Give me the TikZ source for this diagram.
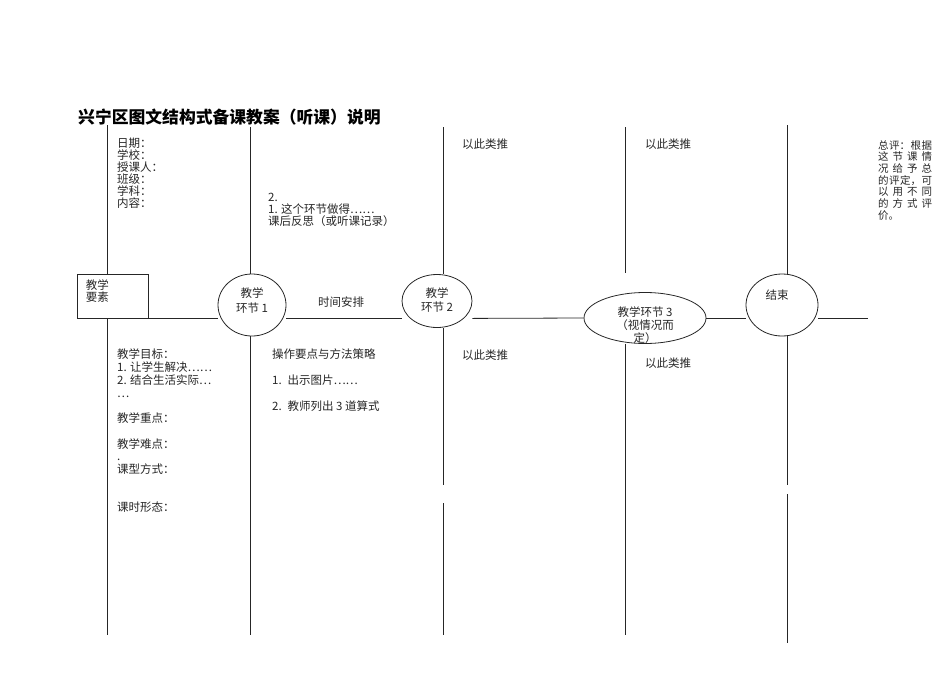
\documentclass[tikz,border=0pt]{standalone}
\usepackage{fontspec}
\setmainfont{Noto Sans CJK SC}
\usetikzlibrary{shapes.geometric}

\newcommand{\fillrow}[1]{\makebox[54pt][s]{#1}}

\begin{document}
\begin{tikzpicture}[
    x=1pt, y=-1pt,
    rule/.style={
        line width=0.8pt,
        draw=black!85
    },
    stage/.style={
        ellipse,
        draw=black!85,
        line width=0.8pt,
        inner sep=0pt
    },
    elembox/.style={
        rectangle,
        draw=black!85,
        line width=0.8pt,
        minimum width=71pt,
        minimum height=44pt,
        inner sep=0pt
    },
    txt/.style={
        inner sep=0pt,
        align=left,
        text=black!85,
        font=\fontsize{11.5}{12}\selectfont
    },
    stagetext/.style={
        inner sep=0pt,
        align=center,
        text=black!85,
        font=\fontsize{11.5}{14.5}\selectfont
    }
]
\useasboundingbox (0,0) rectangle (950,672);

\node[anchor=west, inner sep=0pt, font=\fontsize{16.8}{18}\bfseries\selectfont] (title) at (78,117)
{兴宁区图文结构式备课教案（听课）说明};

% main row
\node[elembox, label={[txt, anchor=north west, xshift=9pt, yshift=-6pt]north west:教学\\要素}] (elem) at (112.5,296) {};

\node[stage, minimum width=68pt, minimum height=62pt,
      label={[stagetext, yshift=4.5pt]center:教学\\环节 1}] (step1) at (252,305) {};

\node[stage, minimum width=70pt, minimum height=53pt,
      label={[stagetext, yshift=1pt]center:教学\\环节 2}] (step2) at (437,301) {};

\node[stage, minimum width=122pt, minimum height=51pt,
      label={[stagetext, font=\fontsize{11.5}{13}\selectfont, yshift=-7pt]center:教学环节 3\\（视情况而\\定）}] (step3) at (645,318) {};

\node[stage, minimum width=72pt, minimum height=62pt,
      label={[stagetext, xshift=-5pt, yshift=10pt]center:结束}] (finish) at (782,305) {};

\coordinate (tail) at (868,318);

\draw[rule] (elem.south east) -- (elem.south east -| step1.west);
\draw[rule] (step1.east |- elem.south) -- (step2.west |- elem.south);
\draw[rule] (step2.east |- elem.south) -- (step3.west);
\draw[rule] (step3.east) -- (finish.west |- step3.east);
\draw[rule] (finish.east |- tail) -- (tail);

\node[txt, anchor=west] (timing) at (318,302) {时间安排};

% vertical rules
\coordinate (top1) at (107,125);
\coordinate (bot1) at (107,635);
\coordinate (top2) at (250,127);
\coordinate (bot2) at (250,635);
\coordinate (top3) at (443,127);
\coordinate (gap3a) at (443,485);
\coordinate (gap3b) at (443,503);
\coordinate (bot3) at (443,635);
\coordinate (top4) at (625,127);
\coordinate (end4) at (625,273);
\coordinate (bot4) at (625,635);
\coordinate (top5) at (787,125);
\coordinate (gap5a) at (787,485);
\coordinate (gap5b) at (787,494);
\coordinate (bot5) at (787,643);

\draw[rule] (top1) -- (top1 |- elem.north);
\draw[rule] (top1 |- elem.south) -- (bot1);
\draw[rule] (top2) -- (top2 |- step1.north);
\draw[rule] (top2 |- step1.south) -- (bot2);
\draw[rule] (top3) -- (top3 |- step2.north);
\draw[rule] (top3 |- step2.south) -- (gap3a);
\draw[rule] (gap3b) -- (bot3);
\draw[rule] (top4) -- (end4);
\draw[rule] (top4 |- step3.south) -- (bot4);
\draw[rule] (top5) -- (top5 |- finish.north);
\draw[rule] (top5 |- finish.south) -- (gap5a);
\draw[rule] (gap5b) -- (bot5);

% upper texts
\node[txt, anchor=north west] (info) at (117,138)
{日期：\\学校：\\授课人：\\班级：\\学科：\\内容：};

\node[txt, anchor=north west] (reflect) at (268,193)
{2.\\1. 这个环节做得……\\课后反思（或听课记录）};

\node[txt, anchor=west] (etc1) at (462,144) {以此类推};
\node[txt, anchor=west] (etc2) at (645,144) {以此类推};

\node[txt, anchor=north west, font=\fontsize{10.5}{11.7}\selectfont] (review) at (878,140)
{\fillrow{总\hfil 评：\hfil 根\hfil 据}\\
 \fillrow{这\hfil 节\hfil 课\hfil 情}\\
 \fillrow{况\hfil 给\hfil 予\hfil 总}\\
 \fillrow{的\hfil 评\hfil 定，\hfil 可}\\
 \fillrow{以\hfil 用\hfil 不\hfil 同}\\
 \fillrow{的\hfil 方\hfil 式\hfil 评}\\
 价。};

% lower texts
\node[txt, anchor=north west, font=\fontsize{11.5}{12.75}\selectfont] (goals) at (117,349)
{教学目标：\\1. 让学生解决……\\2. 结合生活实际…\\…\\\mbox{}\\教学重点：\\\mbox{}\\教学难点：\\.\\课型方式：\\\mbox{}\\\mbox{}\\课时形态：};

\node[txt, anchor=north west, font=\fontsize{11.5}{13}\selectfont] (method) at (272,349)
{操作要点与方法策略\\\mbox{}\\1.\enspace 出示图片……\\\mbox{}\\2.\enspace 教师列出 3 道算式};

\node[txt, anchor=west] (etc3) at (462,355) {以此类推};
\node[txt, anchor=west] (etc4) at (645,363) {以此类推};

\end{tikzpicture}
\end{document}
